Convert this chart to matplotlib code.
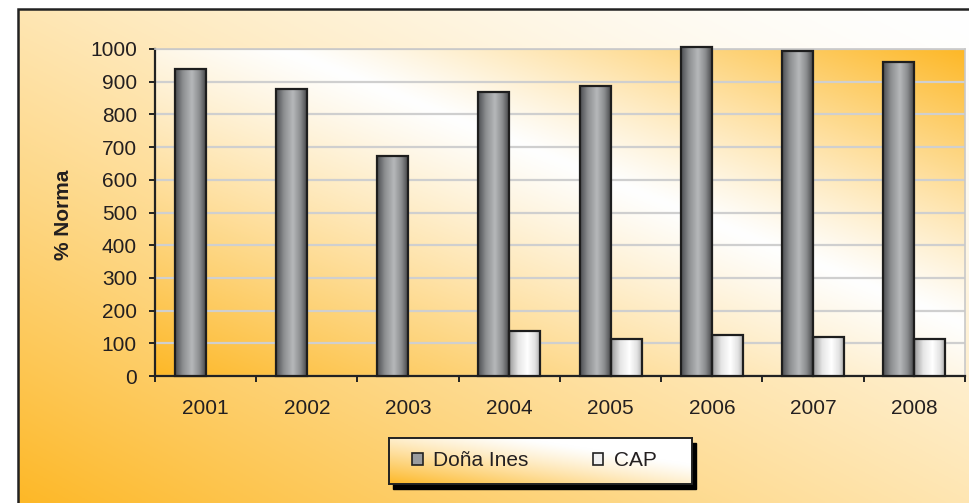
import numpy as np
import matplotlib
matplotlib.use('Agg')
import matplotlib.pyplot as plt
from matplotlib.colors import LinearSegmentedColormap, to_rgb
from matplotlib.patches import Rectangle, Patch

# datos
anios = ['2001', '2002', '2003', '2004', '2005', '2006', '2007', '2008']
dona_ines = [938, 877, 673, 870, 888, 1005, 994, 959]
cap = [None, None, None, 138, 112, 125, 119, 112]
yticks = [0, 100, 200, 300, 400, 500, 600, 700, 800, 900, 1000]

plt.rcParams['font.family'] = ['Liberation Sans', 'DejaVu Sans']
texto = '#231f20'
naranja = np.array(to_rgb('#fdb827'))
blanco = np.ones(3)

W, H = 970, 503
fig = plt.figure(figsize=(W / 100, H / 100), dpi=100)
fig.patch.set_facecolor('white')


def px(x0, y0, x1, y1):
    # caja en pixeles (origen arriba a la izquierda) -> coordenadas de figura
    return [x0 / W, 1 - y1 / H, (x1 - x0) / W, (y1 - y0) / H]


# fondo exterior con degradado
bg = fig.add_axes(px(18, 9, W, H), zorder=-10)
bg.axis('off')
gx, gy = np.meshgrid(np.linspace(0, 1, 300), np.linspace(0, 1, 200))
s = 0.5 * gx + 0.5 * gy
t = np.clip(1 - s, 0, 1) ** 1.5
img = blanco + t[..., None] * (naranja - blanco)
bg.imshow(img, extent=[0, 1, 0, 1], origin='lower', aspect='auto')
bg.set_xlim(0, 1)
bg.set_ylim(0, 1)
fig.add_artist(Rectangle((18 / W, -0.05), 1.2, 1 - 9 / H + 0.05,
                         transform=fig.transFigure, fill=False,
                         edgecolor='#222222', lw=1.8, zorder=-5))

# area de trazado
ax = fig.add_axes(px(155, 49, 965, 376))
ax.set_facecolor('none')
pa = fig.add_axes(px(155, 49, 965, 376), zorder=-8)
pa.axis('off')
s2 = 0.5 * gx + 0.5 * gy
t2 = np.where(s2 > 0.58, (s2 - 0.58) / 0.42, (0.58 - s2) / 0.58)
t2 = np.clip(t2, 0, 1) ** 1.1
img2 = blanco + t2[..., None] * (naranja - blanco)
pa.imshow(img2, extent=[0, 1, 0, 1], origin='lower', aspect='auto')
pa.set_xlim(0, 1)
pa.set_ylim(0, 1)

x = np.arange(len(anios))
ancho = 0.305

cmap_gris = LinearSegmentedColormap.from_list(
    'gris', [(0, '#4d4f52'), (0.25, '#8c8e90'), (0.55, '#b6b8ba'),
             (0.8, '#8a8c8e'), (1, '#4a4b4d')])
cmap_blanco = LinearSegmentedColormap.from_list(
    'blanco', [(0, '#9a9a9a'), (0.3, '#e6e6e6'), (0.6, '#ffffff'),
               (0.85, '#e2e2e2'), (1, '#b0b0b0')])
grad = np.linspace(0, 1, 64)[None, :]


def barras(xs, vals, cmap):
    for xi, v in zip(xs, vals):
        if v is None:
            continue
        b = ax.bar(xi, v, width=ancho, color='none', edgecolor='#1e1e1e',
                   lw=1.6, zorder=4, clip_on=False)[0]
        im = ax.imshow(grad, extent=[xi - ancho / 2, xi + ancho / 2, 0, v],
                       cmap=cmap, aspect='auto', zorder=3)
        im.set_clip_path(b)


barras(x - ancho / 2, dona_ines, cmap_gris)
barras(x + ancho / 2, cap, cmap_blanco)

ax.set_xlim(-0.5, len(anios) - 0.5)
ax.set_ylim(0, 1000)
ax.set_yticks(yticks)
ax.yaxis.grid(True, color='#cfcfcf', lw=1.6, zorder=1)
ax.set_axisbelow(True)

ax.set_xticks(np.arange(len(anios) + 1) - 0.5)
ax.set_xticklabels([])
ax.set_xticks(x, minor=True)
ax.set_xticklabels(anios, minor=True)
ax.tick_params(axis='x', which='major', direction='out', length=4.5,
               width=1.4, color='#222222')
ax.tick_params(axis='x', which='minor', length=0, pad=16.5,
               labelsize=15, labelcolor=texto)
ax.tick_params(axis='y', direction='out', length=4.5, width=1.4,
               color='#222222', pad=8.5, labelsize=15, labelcolor=texto)

for lado in ['left', 'bottom']:
    ax.spines[lado].set_color('#222222')
    ax.spines[lado].set_linewidth(1.6)
for lado in ['top', 'right']:
    ax.spines[lado].set_color('#c8c8c8')
    ax.spines[lado].set_linewidth(1.2)

fig.text(64 / W, 1 - 215 / H, '% Norma', rotation=90, ha='center',
         va='center', fontsize=15, fontweight='bold', color=texto)

# leyenda con sombra
fig.add_artist(Rectangle((393 / W, 1 - 489 / H), 303 / W, 46 / H,
                         transform=fig.transFigure, color='black', zorder=5))
lg = fig.add_axes(px(389, 438, 692, 484), zorder=6)
lg.set_xticks([])
lg.set_yticks([])
for sp in lg.spines.values():
    sp.set_color('#222222')
    sp.set_linewidth(1.4)
s3 = 0.5 * gx + 0.5 * gy
img3 = blanco + (np.clip(1 - s3 * 1.4, 0, 1) ** 1.2)[..., None] * (naranja - blanco)
lg.imshow(img3, extent=[0, 1, 0, 1], origin='lower', aspect='auto')
lg.set_xlim(0, 1)
lg.set_ylim(0, 1)
manejadores = [Patch(facecolor='#9a9c9e', edgecolor='#222222', lw=1.2),
               Patch(facecolor='#f0f0f0', edgecolor='#222222', lw=1.2)]
lg.legend(manejadores, ['Doña Ines', 'CAP'], loc='center', ncol=2,
          frameon=False, fontsize=15, handlelength=0.5, handleheight=0.5,
          handletextpad=0.5, columnspacing=3.1, labelcolor=texto,
          bbox_to_anchor=(0.48, 0.5))

fig.savefig('out.png', dpi=100)
